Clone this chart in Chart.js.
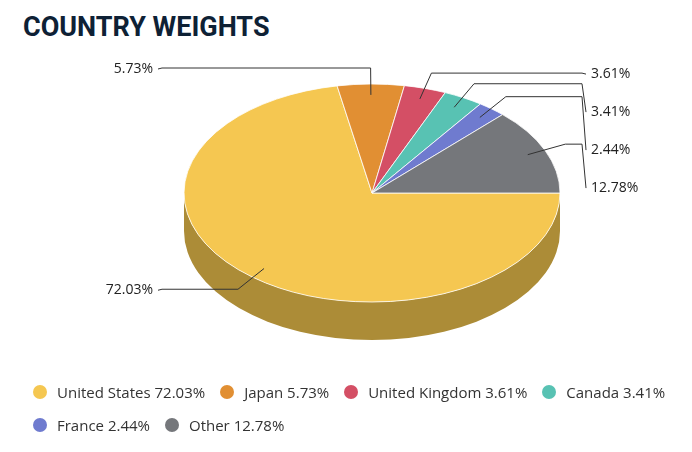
<!DOCTYPE html>
<html>
<head>
<meta charset="utf-8">
<script src="https://cdn.jsdelivr.net/npm/chart.js@4.4.1/dist/chart.umd.min.js"></script>
<style>
html,body{margin:0;padding:0;background:#fff;}
#wrap{position:relative;width:692px;height:452px;overflow:hidden;}
#title{position:absolute;left:23px;top:13px;margin:0;font-family:Roboto,sans-serif;font-weight:700;font-size:27px;line-height:28px;color:#0e2135;white-space:nowrap;}
#chart{position:absolute;left:0;top:0;}
#legend{position:absolute;left:33px;top:382px;width:655px;display:flex;flex-wrap:wrap;row-gap:13px;font-family:"Open Sans",sans-serif;font-size:15px;color:#333;}
.item{display:flex;align-items:center;height:20px;margin-right:15px;white-space:nowrap;}
.dot{width:14px;height:14px;border-radius:50%;margin-right:10px;flex:none;}
</style>
</head>
<body>
<div id="wrap">
  <h1 id="title">COUNTRY WEIGHTS</h1>
  <canvas id="chart" width="692" height="452"></canvas>
  <div id="legend"></div>
</div>
<script>
const categories = ['United States', 'Japan', 'United Kingdom', 'Canada', 'France', 'Other'];
const weights = [72.03, 5.73, 3.61, 3.41, 2.44, 12.78];
const topColors = ['#F5C751', '#E18F33', '#D44F65', '#58C2B3', '#6F7BCF', '#75777B'];
const sideColors = ['#AC8C37', '#A0651F', '#94384A', '#3E897E', '#4E5692', '#525457'];

const RX = 188, RY = 109, DEPTH = 38;
const LABEL_DX = 22, LABEL_DY = 16, GAP = 38;

function fmt(v) { return v.toFixed(2) + '%'; }

// HTML legend built from the arrays
const legend = document.getElementById('legend');
categories.forEach((c, i) => {
  const it = document.createElement('div');
  it.className = 'item';
  const d = document.createElement('span');
  d.className = 'dot';
  d.style.background = topColors[i];
  const t = document.createElement('span');
  t.textContent = c + ' ' + fmt(weights[i]);
  it.appendChild(d); it.appendChild(t);
  legend.appendChild(it);
});

const pie3d = {
  id: 'pie3d',
  beforeDatasetsDraw(chart) {
    const ctx = chart.ctx;
    const meta = chart.getDatasetMeta(0);
    const cx = meta.data[0].x, cy = meta.data[0].y;
    ctx.save();
    // side walls (front half only)
    meta.data.forEach((arc, i) => {
      const s = Math.max(arc.startAngle, 0);
      const e = Math.min(arc.endAngle, Math.PI);
      if (e <= s) return;
      ctx.beginPath();
      ctx.ellipse(cx, cy, RX, RY, 0, s, e, false);
      ctx.ellipse(cx, cy + DEPTH, RX, RY, 0, e, s, true);
      ctx.closePath();
      ctx.fillStyle = sideColors[i];
      ctx.fill();
    });
    // squash the top face into an ellipse
    ctx.translate(cx, cy);
    ctx.scale(1, RY / RX);
    ctx.translate(-cx, -cy);
  },
  afterDatasetsDraw(chart) {
    const ctx = chart.ctx;
    ctx.restore();
    const meta = chart.getDatasetMeta(0);
    const cx = meta.data[0].x, cy = meta.data[0].y;
    const items = meta.data.map((arc, i) => {
      const mid = (arc.startAngle + arc.endAngle) / 2;
      const c = Math.cos(mid), s = Math.sin(mid);
      return {
        i, right: c >= 0,
        inner: [cx + c * RX * 0.9, cy + s * RY * 0.9],
        elbow: [cx + c * (RX + LABEL_DX), cy + s * (RY + LABEL_DY)]
      };
    });
    [true, false].forEach(side => {
      const arr = items.filter(t => t.right === side).sort((a, b) => a.elbow[1] - b.elbow[1]);
      let prev = -Infinity;
      arr.forEach(t => { t.ly = Math.max(t.elbow[1] + 1, prev + GAP); prev = t.ly; });
    });
    ctx.save();
    ctx.strokeStyle = '#333';
    ctx.lineWidth = 1;
    ctx.font = '14px "Open Sans"';
    ctx.fillStyle = '#222';
    ctx.textBaseline = 'middle';
    items.forEach(t => {
      const dir = t.right ? 1 : -1;
      const colX = cx + dir * (RX + LABEL_DX);
      ctx.beginPath();
      ctx.moveTo(t.inner[0], t.inner[1]);
      ctx.lineTo(t.elbow[0], t.elbow[1]);
      ctx.lineTo(colX, t.elbow[1]);
      ctx.lineTo(colX + dir * 4, t.ly);
      ctx.stroke();
      ctx.textAlign = t.right ? 'left' : 'right';
      ctx.fillText(fmt(weights[t.i]), colX + dir * 9, t.ly);
    });
    ctx.restore();
  }
};

new Chart(document.getElementById('chart'), {
  type: 'pie',
  data: {
    labels: categories,
    datasets: [{
      data: weights,
      backgroundColor: topColors,
      borderColor: '#ffffff',
      borderWidth: 1,
      radius: RX
    }]
  },
  options: {
    responsive: false,
    animation: false,
    events: [],
    rotation: 90,
    layout: { padding: { left: 52, right: 0, top: 0, bottom: 66 } },
    plugins: { legend: { display: false }, title: { display: false }, tooltip: { enabled: false } }
  },
  plugins: [pie3d]
});
</script>
</body>
</html>
